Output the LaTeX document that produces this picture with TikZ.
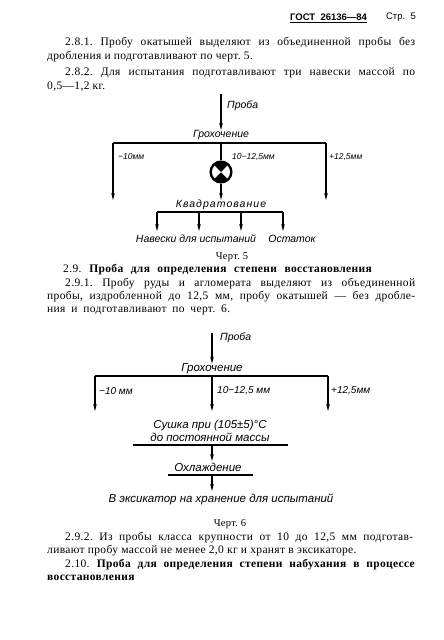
\documentclass[tikz,border=0pt]{standalone}
\usepackage{fontspec}
\setmainfont{Liberation Serif}[LetterSpace=3]
\newfontfamily\schemefont{Liberation Sans}
\usetikzlibrary{arrows.meta, positioning}
\frenchspacing
\tikzset{
	textline/.style={anchor=west, inner sep=0pt, font=\fontsize{11.5}{13}\selectfont},
	figcap/.style={inner sep=0pt, font=\fontsize{10.5}{12}\selectfont},
	stage/.style={inner sep=0pt, font=\schemefont\itshape\fontsize{10.5}{12}\selectfont},
	bigstage/.style={inner sep=0pt, font=\schemefont\itshape\fontsize{11.5}{13}\selectfont},
	sizelabel/.style={anchor=west, inner sep=0pt, font=\schemefont\itshape\fontsize{8.5}{10}\selectfont},
	bigsize/.style={anchor=west, inner sep=0pt, font=\schemefont\itshape\fontsize{10}{11}\selectfont},
	flow/.style={line width=1.1pt, -{Stealth[length=7pt,width=3.6pt]}},
	bar/.style={line width=1.1pt},
}

\begin{document}
\begin{tikzpicture}[x=1pt, y=-1pt]
	\useasboundingbox (0,0) rectangle (444,640);
	% page head
	\node (gost) [anchor=west, inner sep=0pt, font=\schemefont\bfseries\fontsize{9.5}{10}\selectfont] at (290,17) {ГОСТ\ \ 26136—84};
	\node (page) [anchor=east, inner sep=0pt, font=\schemefont\fontsize{9.5}{10}\selectfont] at (416,17) {Стр.\ \ 5};
	\draw[line width=1.2pt] ([yshift=-2pt]gost.south west) -- ([yshift=-2pt]gost.south east);
	
	% 2.8
	\node (p1) [textline] at (65,43) {\makebox[350pt][s]{2.8.1. Пробу окатышей выделяют из объединенной пробы без}};
	\node (p2) [textline] at (47,57) {дробления и подготавливают по черт. 5.};
	\node (p3) [textline] at (65,73) {\makebox[350pt][s]{2.8.2. Для испытания подготавливают три навески массой по}};
	\node (p4) [textline] at (47,87) {0,5—1,2 кг.};
	
	% chart 5
	\coordinate (in1) at (221,94);
	\node (proba1) [stage, anchor=west] at (227,106) {Проба};
	\node (grokh1) [stage] at (221,135) {Грохочение};
	\coordinate (l1) at (113,143);
	\coordinate (m1) at (221,143);
	\coordinate (r1) at (326,143);
	\coordinate (l1e) at (113,200);
	\coordinate (r1e) at (326,200);
	\node (quart) [circle, draw, line width=1.1pt, fill=black, minimum size=22pt, inner sep=0pt] at (221,172) {};
	\fill[white] (quart.center) -- ++(135:9) arc[start angle=135, end angle=225, radius=9] -- cycle;
	\fill[white] (quart.center) -- ++(-45:9) arc[start angle=-45, end angle=45, radius=9] -- cycle;
	\node (kvad) [stage] at (221,205) {\addfontfeature{LetterSpace=10}Квадратование};
	\node (minus1) [sizelabel] at (118,157) {−10мм};
	\node (mid1) [sizelabel] at (232,157) {10−12,5мм};
	\node (plus1) [sizelabel] at (329,157) {+12,5мм};
	\node (naveski) [stage] at (196,239) {Навески для испытаний};
	\node (ostatok) [stage] at (292,239) {Остаток};
	\coordinate (k1) at (157,212);
	\coordinate (k4) at (283,212);
	
	\draw[flow] (in1) -- (grokh1);
	\draw[bar] (l1) -- (r1);
	\draw[flow] (l1) -- (l1e);
	\draw[flow] (r1) -- (r1e);
	\draw[bar] (m1) -- (quart);
	\draw[flow] (quart) -- (kvad);
	\draw[bar] (k1) -- (k4);
	\foreach \x [count=\i] in {157,199,241,283} {
		\coordinate (kt\i) at (\x,212);
		\coordinate (kb\i) at (\x,231);
		\draw[flow] (kt\i) -- (kb\i);
	}
	
	\node (cap5) [figcap] at (232,257) {Черт.\ 5};
	
	% 2.9
	\node (h29) [textline] at (63,270) {\makebox[309pt][s]{2.9. \textbf{Проба для определения степени восстановления}}};
	\node (p5) [textline] at (65,284) {\makebox[350pt][s]{2.9.1. Пробу руды и агломерата выделяют из объединенной}};
	\node (p6) [textline] at (47,297) {\makebox[368pt][s]{пробы, издробленной до 12,5 мм, пробу окатышей — без дробле-}};
	\node (p7) [textline] at (47,310) {\makebox[183pt][s]{ния и подготавливают по черт. 6.}};
	
	% chart 6
	\coordinate (in2) at (212,333);
	\node (proba2) [stage, anchor=west] at (220,338) {Проба};
	\node (grokh2) [bigstage] at (212,369) {Грохочение};
	\coordinate (l2) at (95,376);
	\coordinate (m2) at (212,376);
	\coordinate (r2) at (328,376);
	\coordinate (l2e) at (95,411);
	\coordinate (m2e) at (212,411);
	\coordinate (r2e) at (328,411);
	\node (minus2) [bigsize] at (99,391) {−10 мм};
	\node (mid2) [bigsize] at (217,391) {10−12,5 мм};
	\node (plus2) [bigsize] at (331,391) {+12,5мм};
	\node (dry) [bigstage, align=center] at (210,431) {Сушка при (105±5)°С\\до постоянной массы};
	\coordinate (d1) at (133,445);
	\coordinate (d2) at (288,445);
	\coordinate (dm) at (212,445);
	\coordinate (dme) at (212,461);
	\node (cool) [bigstage] at (208,467) {Охлаждение};
	\coordinate (c1) at (168,475);
	\coordinate (c2) at (253,475);
	\coordinate (cm) at (212,475);
	\coordinate (cme) at (212,491);
	\node (exsic) [bigstage] at (221,499) {В эксикатор на хранение для испытаний};
	
	\draw[flow] (in2) -- (grokh2);
	\draw[bar] (l2) -- (r2);
	\draw[flow] (l2) -- (l2e);
	\draw[flow] (m2) -- (m2e);
	\draw[flow] (r2) -- (r2e);
	\draw[bar] (d1) -- (d2);
	\draw[flow] (dm) -- (dme);
	\draw[bar] (c1) -- (c2);
	\draw[flow] (cm) -- (cme);
	
	\node (cap6) [figcap] at (230,524) {Черт.\ 6};
	
	% 2.9.2, 2.10
	\node (p8) [textline] at (65,538) {\makebox[348pt][s]{2.9.2. Из пробы класса крупности от 10 до 12,5 мм подготав-}};
	\node (p9) [textline] at (47,551) {ливают пробу массой не менее 2,0 кг и хранят в эксикаторе.};
	\node (h210) [textline] at (65,565) {\makebox[350pt][s]{2.10. \textbf{Проба для определения степени набухания в процессе}}};
	\node (p10) [textline] at (47,578) {\textbf{восстановления}};
\end{tikzpicture}
\end{document}
